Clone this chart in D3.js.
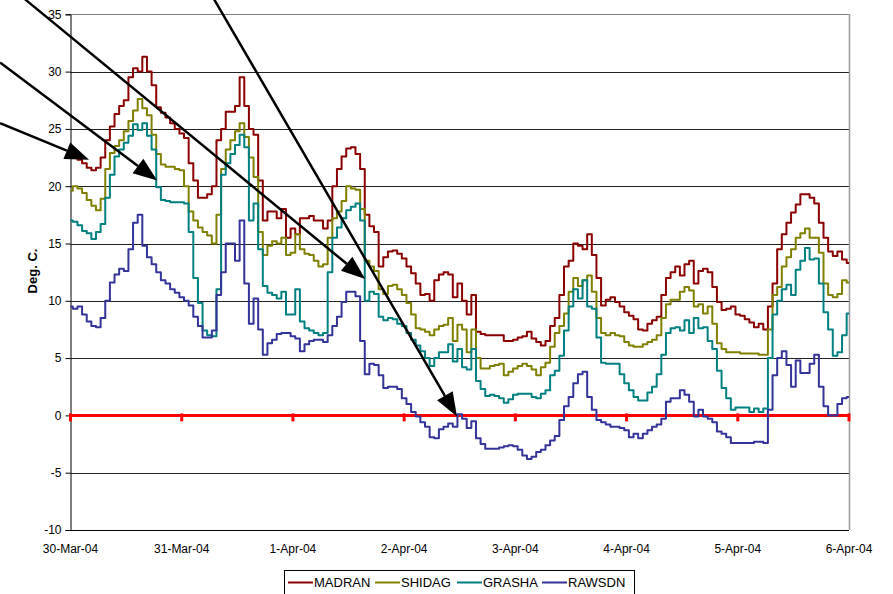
<!DOCTYPE html>
<html>
<head>
    <meta charset="utf-8">
    <script src="https://d3js.org/d3.v7.min.js"></script>
    <style>
        body { margin: 0; background: #fff; }
        text { font-family: "Liberation Sans", Arial, sans-serif; fill: #000; }
    </style>
</head>
<body>
    <div id="chart"></div>
    <script>
        // hourly readings, 30-Mar-04 00:00 .. 6-Apr-04 00:00
        var madran = [23.2,22.8,22.3,22.0,21.6,21.4,21.6,22.5,24.0,25.2,26.3,27.0,27.5,29.5,30.3,30.0,31.3,30.0,28.8,26.9,26.4,26.0,25.5,25.0,
            24.6,24.2,22.0,20.5,19.0,19.0,19.3,20.0,24.0,25.0,26.5,26.5,27.0,29.5,27.0,25.0,24.5,20.5,17.0,17.8,17.8,17.2,18.0,15.5,
            16.3,15.8,17.2,17.2,17.4,17.0,17.0,16.3,17.0,20.0,21.5,22.6,23.3,23.4,22.8,21.5,17.5,16.5,16.0,13.0,13.8,14.3,14.4,14.1,
            13.7,13.0,12.4,11.5,10.5,10.6,10.0,11.8,12.3,12.5,12.3,10.3,11.5,10.0,8.8,10.5,7.3,7.1,7.0,7.0,7.0,7.0,6.5,6.5,
            6.6,6.8,6.9,7.3,6.7,6.4,6.1,6.5,7.8,8.5,10.5,13.0,13.5,15.0,14.8,14.5,15.8,14.0,12.0,9.6,10.1,10.3,9.9,9.5,
            9.0,8.7,8.4,7.5,7.4,8.0,8.3,8.6,10.5,12.0,12.5,13.0,12.2,13.2,13.5,11.5,12.6,12.8,12.5,11.2,9.9,9.2,9.3,9.5,
            8.8,8.7,8.4,8.1,7.7,8.0,7.5,9.5,11.5,14.5,15.8,16.8,17.7,18.4,19.3,19.3,19.0,18.5,16.8,15.5,14.3,13.9,14.3,13.6,
            13.3];
        var shidag = [19.6,20.0,19.8,19.4,18.8,18.3,17.9,18.9,21.5,22.9,23.5,24.0,24.8,25.7,26.6,27.6,26.8,26.2,24.5,22.8,21.9,21.7,21.7,21.5,
            21.4,20.0,17.8,17.0,16.4,16.0,15.7,15.0,17.5,21.5,23.2,24.0,24.8,25.5,24.3,22.5,20.8,16.0,14.0,14.8,15.2,15.0,15.5,14.0,
            14.2,15.8,14.5,14.1,14.0,13.5,13.0,13.2,15.5,17.2,17.8,18.7,20.0,19.8,19.7,18.0,13.5,13.0,12.6,11.0,10.6,11.3,11.4,11.0,
            10.5,9.8,8.8,7.6,7.5,7.3,7.0,7.5,7.8,7.9,8.5,6.5,7.9,7.5,5.5,7.5,5.0,4.1,4.1,4.3,4.4,4.5,3.5,3.8,
            4.1,4.3,4.5,4.3,4.0,3.5,4.2,4.6,6.0,7.2,7.8,8.9,10.8,12.0,11.3,11.8,12.2,10.8,8.5,7.2,7.0,7.2,7.0,6.9,
            6.4,6.1,6.0,6.0,6.2,6.4,6.6,7.0,8.5,9.7,10.1,10.1,10.8,11.2,10.9,9.5,9.7,8.9,9.5,8.0,6.3,5.8,5.5,5.5,
            5.5,5.4,5.4,5.4,5.4,5.3,5.3,7.5,10.5,11.2,13.0,13.8,14.5,15.5,15.9,16.3,15.5,15.5,14.2,11.5,10.5,10.3,10.6,11.8,
            11.6];
        var grasha = [17.0,16.9,16.6,16.1,15.9,15.4,16.0,16.7,19.0,21.0,22.6,23.2,23.8,24.4,25.4,24.9,25.5,24.4,23.2,19.9,18.8,18.7,18.6,18.6,
            18.6,18.5,16.0,12.0,9.8,7.4,7.0,6.9,11.0,21.0,22.0,22.8,23.6,24.5,23.4,17.0,18.5,14.5,11.3,10.7,10.5,10.2,10.8,8.8,
            8.8,11.0,8.2,7.6,7.4,7.2,7.0,7.2,12.5,15.5,16.4,17.2,17.9,18.2,18.5,17.0,10.0,10.8,10.6,8.6,8.3,8.5,8.4,8.0,
            7.8,7.2,6.6,6.1,5.6,5.0,4.3,5.0,5.5,5.5,6.2,4.7,5.8,4.2,4.0,5.8,3.0,2.3,1.7,1.8,1.7,1.5,1.1,1.4,
            1.8,1.9,1.9,1.9,1.6,1.5,1.9,2.2,3.5,3.9,5.2,7.4,9.5,11.0,10.2,11.8,9.5,9.3,6.8,4.6,4.5,4.5,4.5,3.6,
            2.8,2.2,1.6,1.3,1.3,2.0,2.5,3.6,5.3,7.2,7.6,7.7,7.4,8.3,7.2,8.5,7.6,7.7,6.5,5.8,3.9,2.4,1.5,0.5,
            0.7,0.7,0.7,0.3,0.6,0.3,0.6,5.0,8.8,10.0,11.0,11.4,10.5,12.7,13.5,14.6,13.6,13.7,11.5,9.0,7.5,5.2,5.5,7.0,
            8.9];
        var rawsdn = [9.5,9.3,9.5,8.8,8.2,7.8,7.7,8.5,10.0,11.6,12.3,12.8,12.6,14.5,16.8,17.5,14.8,13.8,13.2,12.5,11.8,11.5,11.0,10.7,
            10.3,10.0,9.6,8.6,7.8,6.8,6.8,7.4,10.5,12.5,15.0,15.0,13.5,17.0,11.5,8.0,10.2,7.5,5.3,6.3,6.6,7.1,7.2,7.2,
            6.9,6.7,5.6,6.2,6.5,6.6,6.6,6.4,7.0,7.8,8.6,9.9,10.8,10.8,10.4,6.5,3.6,4.5,4.4,3.5,2.4,2.5,2.5,2.3,
            1.5,1.0,0.3,-0.1,-0.6,-1.0,-1.9,-2.0,-1.2,-1.0,-0.7,-1.0,0.1,-0.3,-1.1,-0.5,-2.0,-2.5,-2.9,-2.9,-2.9,-2.8,-2.7,-2.6,
            -2.7,-3.0,-3.5,-3.8,-3.6,-3.2,-3.0,-2.6,-2.2,-1.8,-0.4,0.8,1.6,2.8,3.6,3.8,1.6,0.5,-0.4,-0.6,-0.8,-1.0,-1.0,-1.1,
            -1.3,-1.9,-1.6,-2.0,-1.6,-1.3,-1.0,-0.8,-0.3,1.2,1.5,1.5,2.2,1.8,1.2,-0.1,0.5,-0.1,-0.3,-0.6,-1.4,-1.6,-1.9,-2.4,
            -2.4,-2.4,-2.4,-2.4,-2.3,-2.3,-2.4,0.5,3.5,5.0,5.6,4.4,2.5,4.8,3.7,3.7,4.5,5.3,2.5,0.8,0.0,0.0,1.0,1.5,
            1.6];

        var seriesNames = ["MADRAN", "SHIDAG", "GRASHA", "RAWSDN"];
        var seriesColors = ["#8b0000", "#808000", "#008080", "#333399"];
        var dayLabels = ["30-Mar-04", "31-Mar-04", "1-Apr-04", "2-Apr-04", "3-Apr-04", "4-Apr-04", "5-Apr-04", "6-Apr-04"];
        var yTicks = [-10, -5, 0, 5, 10, 15, 20, 25, 30, 35];
        // arrows: [start hour, start value, tip hour, tip value]
        var arrows = [
            [-15.2, 25.5, 4.0, 22.3],
            [-15.2, 30.8, 18.7, 20.5],
            [-9.8, 36.3, 63.6, 11.9],
            [31.0, 36.3, 83.4, -0.1]
        ];

        var start = new Date(2004, 2, 30);
        function hourDate(h) { return new Date(start.getTime() + h * 3600000); }

        var W = 893, H = 594;
        var svg = d3.select("#chart").append("svg")
            .attr("width", W)
            .attr("height", H);

        var x = d3.scaleTime()
            .domain([start, new Date(2004, 3, 6)])
            .range([70.5, 849]);
        var y = d3.scaleLinear()
            .domain([-10, 35])
            .range([530, 14.3]);

        // grid lines
        svg.append("g")
            .selectAll("line")
            .data(yTicks.filter(function (d) { return d !== -10 && d !== 0; }))
            .enter().append("line")
            .attr("x1", x.range()[0]).attr("x2", x.range()[1])
            .attr("y1", function (d) { return Math.round(y(d)) + 0.5; })
            .attr("y2", function (d) { return Math.round(y(d)) + 0.5; })
            .style("stroke", function (d) { return d === 35 ? "#808080" : "#222"; })
            .style("stroke-width", 1);

        // right border
        svg.append("line")
            .attr("x1", 849.5).attr("x2", 849.5)
            .attr("y1", y(35)).attr("y2", y(-10))
            .style("stroke", "#999").style("stroke-width", 1.5);

        // y axis
        var yAxis = svg.append("g")
            .attr("transform", "translate(70.5,0)")
            .call(d3.axisLeft(y).tickValues(yTicks).tickSize(5).tickPadding(4)
                .tickFormat(function (d) { return String(d); }));
        yAxis.selectAll("text").style("font-size", "12px");
        yAxis.selectAll("path, line").style("stroke", "#000");

        // x axis line + labels
        svg.append("line")
            .attr("x1", 70.5).attr("x2", 849)
            .attr("y1", Math.round(y(-10)) + 0.5).attr("y2", Math.round(y(-10)) + 0.5)
            .style("stroke", "#000");
        var days = d3.timeDay.range(start, new Date(2004, 3, 7));
        svg.append("g")
            .selectAll("text")
            .data(days)
            .enter().append("text")
            .attr("x", function (d) { return x(d); })
            .attr("y", 553)
            .style("text-anchor", "middle")
            .style("font-size", "12px")
            .text(function (d, i) { return dayLabels[i]; });

        // axis title
        svg.append("text")
            .attr("transform", "translate(37,271) rotate(-90)")
            .style("text-anchor", "middle")
            .style("font-size", "13px")
            .style("font-weight", "bold")
            .text("Deg. C.");

        // zero line
        svg.append("line")
            .attr("x1", 70.5).attr("x2", 849)
            .attr("y1", y(0)).attr("y2", y(0))
            .style("stroke", "#ff0000").style("stroke-width", 3);
        svg.append("g")
            .selectAll("rect")
            .data(days)
            .enter().append("rect")
            .attr("x", function (d) { return x(d) - 1.5; })
            .attr("y", y(0) - 2)
            .attr("width", 3).attr("height", 8)
            .style("fill", "#ff0000");

        // series
        var allSeries = [madran, shidag, grasha, rawsdn];
        var line = d3.line()
            .curve(d3.curveStep)
            .x(function (d, i) { return x(hourDate(i)); })
            .y(function (d) { return y(d); });
        svg.append("g")
            .selectAll("path")
            .data(allSeries)
            .enter().append("path")
            .attr("d", line)
            .style("fill", "none")
            .style("stroke", function (d, i) { return seriesColors[i]; })
            .style("stroke-width", 2)
            .style("stroke-linejoin", "round");

        // arrows
        var arrowG = svg.append("g");
        arrows.forEach(function (a) {
            var x1 = x(hourDate(a[0])), y1 = y(a[1]);
            var x2 = x(hourDate(a[2])), y2 = y(a[3]);
            var ang = Math.atan2(y2 - y1, x2 - x1);
            var len = 24, hw = 9;
            var bx = x2 - len * Math.cos(ang), by = y2 - len * Math.sin(ang);
            arrowG.append("line")
                .attr("x1", x1).attr("y1", y1)
                .attr("x2", bx).attr("y2", by)
                .style("stroke", "#000").style("stroke-width", 2.5);
            var pts = [
                [x2, y2],
                [bx + hw * Math.sin(ang), by - hw * Math.cos(ang)],
                [bx - hw * Math.sin(ang), by + hw * Math.cos(ang)]
            ];
            arrowG.append("polygon")
                .attr("points", pts.map(function (p) { return p.join(","); }).join(" "))
                .style("fill", "#000");
        });

        // legend
        var legend = svg.append("g");
        legend.append("rect")
            .attr("x", 284.5).attr("y", 570.5)
            .attr("width", 350).attr("height", 30)
            .style("fill", "#fff").style("stroke", "#000");
        var legendX = [288, 375, 457, 542];
        seriesNames.forEach(function (name, i) {
            legend.append("line")
                .attr("x1", legendX[i]).attr("x2", legendX[i] + 25)
                .attr("y1", 582.5).attr("y2", 582.5)
                .style("stroke", seriesColors[i]).style("stroke-width", 2);
            legend.append("text")
                .attr("x", legendX[i] + 26)
                .attr("y", 587)
                .style("font-size", "13px")
                .text(name);
        });
    </script>
</body>
</html>
